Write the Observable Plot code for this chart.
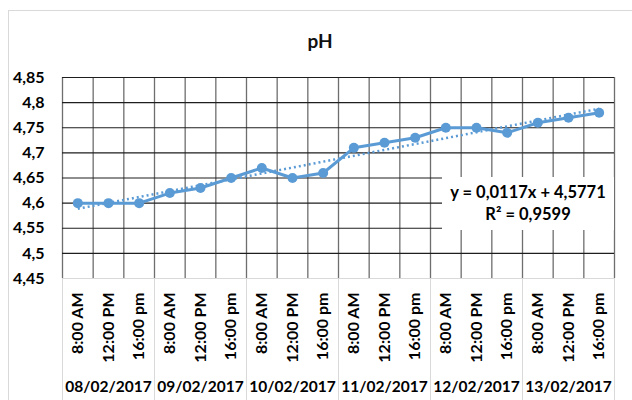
<!DOCTYPE html>
<html>
<head>
<meta charset="utf-8">
<script src="https://cdn.jsdelivr.net/npm/d3@7"></script>
<script src="https://cdn.jsdelivr.net/npm/@observablehq/plot@0.6"></script>
<style>
  html, body { margin: 0; padding: 0; background: #fff; }
  #wrap { position: relative; width: 632px; height: 400px; overflow: hidden; font-family: Lato, "Open Sans", sans-serif; }
  #border { position: absolute; left: 8px; top: 10px; width: 700px; height: 500px; border: 1px solid #d9d9d9; box-sizing: border-box; pointer-events: none; }
  #title { position: absolute; left: 8px; width: 624px; top: 29px; text-align: center; font-weight: bold; font-size: 19px; color: #111; }
  #eq { position: absolute; left: 442px; top: 177px; width: 172px; height: 53px; background: #fff; text-align: center; font-weight: bold; font-size: 16.5px; color: #000; line-height: 22px; padding-top: 4px; box-sizing: border-box; }
  svg { position: absolute; left: 0; top: 0; }
</style>
</head>
<body>
<div id="wrap">
  <div id="border"></div>
  <div id="title">pH</div>
</div>
<script>
const dates = ["08/02/2017", "09/02/2017", "10/02/2017", "11/02/2017", "12/02/2017", "13/02/2017"];
const times = ["8:00 AM", "12:00 PM", "16:00 pm"];
const phValues = [4.60, 4.60, 4.60, 4.62, 4.63, 4.65, 4.67, 4.65, 4.66, 4.71, 4.72, 4.73, 4.75, 4.75, 4.74, 4.76, 4.77, 4.78];
const yTicks = [4.45, 4.5, 4.55, 4.6, 4.65, 4.7, 4.75, 4.8, 4.85];
const equationText = "y = 0,0117x + 4,5771";
const r2Text = "R² = 0,9599";

const data = phValues.map((v, i) => ({idx: i + 1, ph: v, time: times[i % 3], date: dates[Math.floor(i / 3)]}));
const boundaries = d3.range(0, phValues.length + 1).map(i => i + 0.5);
const groupBounds = d3.range(0, dates.length + 1).map(i => i * 3 + 0.5);
const groupCenters = dates.map((d, i) => ({date: d, x: i * 3 + 2}));
const fmt = d => String(+d.toFixed(2)).replace(".", ",");
const blue = "#5b9bd5";

const chart = Plot.plot({
  width: 632,
  height: 400,
  marginLeft: 62,
  marginRight: 18,
  marginTop: 77,
  marginBottom: 122,
  style: {fontFamily: "Lato, 'Open Sans', sans-serif", background: "transparent", overflow: "visible"},
  x: {type: "linear", domain: [0.5, phValues.length + 0.5]},
  y: {domain: [4.45, 4.85]},
  marks: [
    Plot.ruleX(boundaries, {stroke: "#6e6e6e", strokeWidth: 1.3, strokeOpacity: 1}),
    Plot.ruleY(yTicks.filter(t => t > 4.45), {stroke: "#1e1e1e", strokeWidth: 1.2, strokeOpacity: 1}),
    Plot.ruleY([4.45], {stroke: "#d9d9d9", strokeWidth: 1}),
    Plot.ruleX(groupBounds, {stroke: "#d9d9d9", strokeWidth: 1, insetTop: 201, insetBottom: -130}),
    Plot.axisY({ticks: yTicks, tickFormat: fmt, tickSize: 0, tickPadding: 18, fontSize: 16, fontWeight: "bold", fill: "#000", label: null}),
    Plot.axisX({ticks: data.map(d => d.idx), tickFormat: i => times[(i - 1) % 3], tickRotate: -90, tickSize: 0, tickPadding: 14, fontSize: 16, fontWeight: "bold", fill: "#000", label: null}),
    Plot.text(groupCenters, {x: "x", text: "date", frameAnchor: "bottom", dy: 113, fontSize: 15.5, fontWeight: "bold", fill: "#000"}),
    Plot.linearRegressionY(data, {x: "idx", y: "ph", ci: 0, stroke: blue, strokeWidth: 2.5, strokeDasharray: "2,3", strokeLinecap: "butt"}),
    Plot.line(data, {x: "idx", y: "ph", stroke: blue, strokeWidth: 3}),
    Plot.dot(data, {x: "idx", y: "ph", r: 5, fill: blue, stroke: "none"})
  ]
});
const wrap = document.getElementById("wrap");
wrap.insertBefore(chart, document.getElementById("border"));
const eq = document.createElement("div");
eq.id = "eq";
eq.innerHTML = equationText + "<br>" + r2Text;
wrap.appendChild(eq);
</script>
</body>
</html>
